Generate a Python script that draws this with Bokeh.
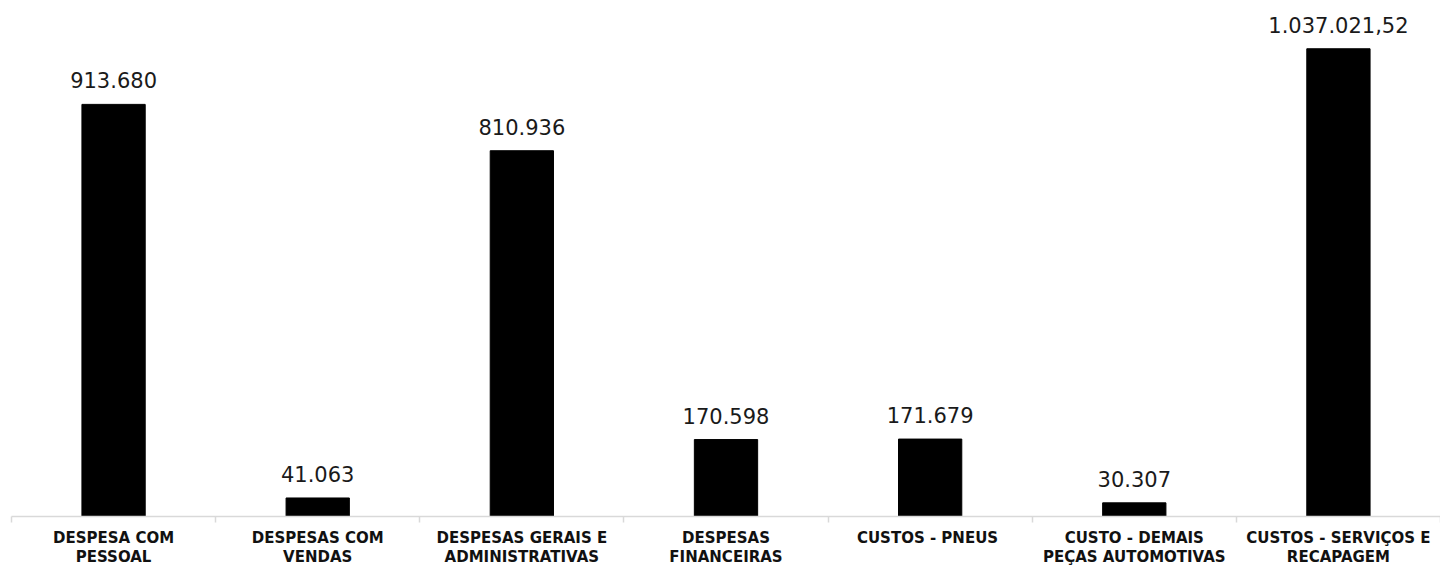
import numpy as np
from bokeh.plotting import figure
from bokeh.models import ColumnDataSource, FixedTicker, Range1d
from bokeh.core.properties import value
from bokeh.embed import file_html
from bokeh.resources import INLINE

categories = [
    "DESPESA COM\nPESSOAL",
    "DESPESAS COM\nVENDAS",
    "DESPESAS GERAIS E\nADMINISTRATIVAS",
    "DESPESAS\nFINANCEIRAS",
    "CUSTOS -  PNEUS",
    "CUSTO - DEMAIS\nPEÇAS AUTOMOTIVAS",
    "CUSTOS - SERVIÇOS E\nRECAPAGEM",
]
values = [913680, 41063, 810936, 170598, 171679, 30307, 1037021.52]
value_labels = ["913.680", "41.063", "810.936", "170.598", "171.679", "30.307", "1.037.021,52"]

x = np.arange(len(categories)) + 0.5
src = ColumnDataSource(dict(x=x, top=values, lab=value_labels))

p = figure(width=1440, height=569, output_backend="svg", toolbar_location=None,
           x_range=Range1d(0, len(categories)), y_range=Range1d(0, 1144000),
           min_border_left=11, min_border_right=0, min_border_top=0, min_border_bottom=53)
p.outline_line_color = None
p.grid.grid_line_color = None
p.yaxis.visible = False

p.vbar(x="x", top="top", width=0.31, source=src, fill_color="black", line_color="black")
p.text(x="x", y="top", text="lab", source=src, text_align="center", text_baseline="bottom",
       y_offset=-16, text_font=value("DejaVu Sans"), text_font_size="21px", text_color="#1a1a1a")

ax = p.xaxis[0]
ax.ticker = FixedTicker(ticks=list(x), minor_ticks=list(range(len(categories) + 1)))
ax.major_label_overrides = {float(xi): c for xi, c in zip(x, categories)}
ax.major_tick_line_color = None
ax.major_tick_out = 0
ax.major_tick_in = 0
ax.minor_tick_line_color = "#d9d9d9"
ax.minor_tick_line_width = 1.5
ax.minor_tick_in = 0
ax.minor_tick_out = 6
ax.axis_line_color = "#d9d9d9"
ax.axis_line_width = 1.5
ax.major_label_standoff = 6
ax.major_label_text_font = "DejaVu Sans"
ax.major_label_text_font_style = "bold"
ax.major_label_text_font_size = "15px"
ax.major_label_text_color = "#111111"
ax.major_label_text_line_height = 1.1

open("out.html", "w").write(file_html(p, INLINE))
